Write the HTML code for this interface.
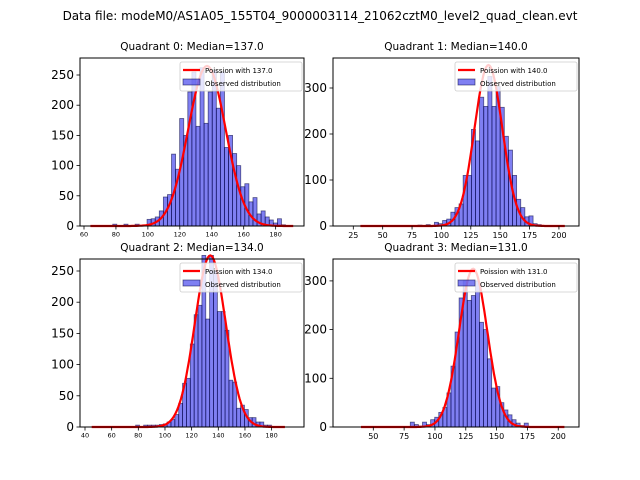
<!DOCTYPE html>
<html><head><meta charset="utf-8"><style>
body{margin:0;background:#fff}
svg{display:block;font-family:"DejaVu Sans","Liberation Sans",sans-serif}
</style></head><body>
<svg id="fig" width="640" height="480" viewBox="0 0 640 480">
<rect width="640" height="480" fill="#fff"/>
<text x="320" y="20" text-anchor="middle" font-size="12">Data file: modeM0/AS1A05_155T04_9000003114_21062cztM0_level2_quad_clean.evt</text>
</svg>
<script>
// Quadrant 0
const q0Start = 99.5, q0Width = 2.55;
const q0Counts = [11,12,15,25,48,52,119,94,178,150,222,255,165,262,170,222,257,195,255,130,150,120,100,65,70,40,47,20,25,15,10,5,12,2];
const q0Extra = [[78,3],[85,3],[92,3]];
const q0Median = 137, q0Peak = 265, q0Range = [64,191];
const q0XTicks = [60,80,100,120,140,160,180];
const q0YTicks = [0,50,100,150,200,250];
// Quadrant 1
const q1Start = 101, q1Width = 3.5;
const q1Counts = [12,15,30,40,48,110,110,210,185,280,260,325,260,303,258,195,165,110,58,40,20,22,5,3];
const q1Extra = [[80,2],[87,3],[94,8],[97,5]];
const q1Median = 140, q1Peak = 350, q1Range = [31,205];
const q1XTicks = [25,50,75,100,125,150,175,200];
const q1YTicks = [0,100,200,300];
// Quadrant 2
const q2Start = 90, q2Width = 2.9;
const q2Counts = [3,3,4,5,8,12,20,38,70,78,133,180,195,275,173,275,250,185,185,155,75,72,30,35,28,15,15,8,8,3,3];
const q2Extra = [[78,3],[84,3],[87,3]];
const q2Median = 134, q2Peak = 275, q2Range = [45,190];
const q2XTicks = [40,60,80,100,120,140,160,180];
const q2YTicks = [0,50,100,150,200,250];
// Quadrant 3
const q3Start = 80, q3Width = 3.3;
const q3Counts = [10,5,2,10,5,15,20,30,40,70,125,195,265,300,260,270,300,215,200,140,80,83,50,35,25,15,8,3,8,1];
const q3Extra = [];
const q3Median = 131, q3Peak = 325, q3Range = [40,205];
const q3XTicks = [50,75,100,125,150,175,200];
const q3YTicks = [0,100,200,300];

const NS = "http://www.w3.org/2000/svg";
const svg = document.getElementById('fig');
function mk(tag, attrs, parent){const e=document.createElementNS(NS,tag);for(const k in attrs)e.setAttribute(k,attrs[k]);(parent||svg).appendChild(e);return e;}

function panel(p){
  const g = mk('g',{});
  
  
  const sx = v => p.x0 + (v - p.xmin) * (p.x1 - p.x0) / (p.xmax - p.xmin);
  const sy = v => p.y1 - v * (p.y1 - p.y0) / p.ymax;
  const bars = [];
  p.extra.forEach(e => bars.push([e[0], e[1]]));
  p.counts.forEach((c,i) => bars.push([p.start + i*p.width, c]));
  bars.forEach(b => {
    const r = mk('rect',{x:sx(b[0]),y:sy(b[1]),width:Math.max(0.5,sx(b[0]+p.width)-sx(b[0])),height:sy(0)-sy(b[1]),fill:'rgba(0,0,230,0.5)',stroke:'rgba(0,0,60,0.6)','stroke-width':0.8},g);
    
    
  });
  let d='';
  for(let x=p.range[0]; x<=p.range[1]; x+=1){
    const y = p.peak*Math.exp(-(x-p.median)*(x-p.median)/(2*p.median));
    d += (d?'L':'M') + sx(x).toFixed(1)+','+sy(y).toFixed(1);
  }
  const c = mk('path',{d:d,fill:'none',stroke:'#f00','stroke-width':2.2},g);
  
  
  const f = mk('rect',{x:p.x0,y:p.y0,width:p.x1-p.x0,height:p.y1-p.y0,fill:'none',stroke:'#000','stroke-width':1},g);
  
  
  p.xticks.forEach(t => {
    mk('line',{x1:sx(t),x2:sx(t),y1:p.y1,y2:p.y1+3.5,stroke:'#000','stroke-width':0.8},g);
    const tx = mk('text',{x:sx(t),y:p.y1+4+p.xfs,'text-anchor':'middle','font-size':p.xfs},g);
    tx.textContent = t;
    
    
  });
  p.yticks.forEach(t => {
    mk('line',{x1:p.x0-3.5,x2:p.x0,y1:sy(t),y2:sy(t),stroke:'#000','stroke-width':0.8},g);
    const tx = mk('text',{x:p.x0-6,y:sy(t)+4,'text-anchor':'end','font-size':12},g);
    tx.textContent = t;
    
    
  });
  const ti = mk('text',{x:(p.x0+p.x1)/2,y:p.y0-8,'text-anchor':'middle','font-size':10.5},g);
  ti.textContent = 'Quadrant '+p.id+': Median='+p.median.toFixed(1);
  
  
  const lg = mk('g',{},g);
  
  
  const lx = p.x1-124, ly = p.y0+4;
  mk('rect',{x:lx,y:ly,width:122,height:29,rx:2,fill:'rgba(255,255,255,0.8)',stroke:'#ccc','stroke-width':0.8},lg);
  mk('line',{x1:lx+3,x2:lx+20,y1:ly+8,y2:ly+8,stroke:'#f00','stroke-width':2.2},lg);
  mk('rect',{x:lx+3,y:ly+17,width:17,height:6,fill:'rgba(0,0,230,0.5)',stroke:'rgba(0,0,60,0.6)','stroke-width':0.8},lg);
  const l1 = mk('text',{x:lx+25,y:ly+11,'font-size':7},lg); l1.textContent='Poission with '+p.median.toFixed(1);
  
  
  const l2 = mk('text',{x:lx+25,y:ly+24,'font-size':7},lg); l2.textContent='Observed distribution';
  
  
}

panel({id:0,x0:80,x1:304,y0:58,y1:226,start:q0Start,width:q0Width,counts:q0Counts,extra:q0Extra,median:q0Median,peak:q0Peak,range:q0Range,xticks:q0XTicks,yticks:q0YTicks,xfs:6.5,
  ...(()=>{const ppu=1.597;return {xmin:60-(84-80)/ppu, xmax:60+(304-84)/ppu, ymax:168/0.604};})()});
panel({id:1,x0:333,x1:579,y0:58,y1:226,start:q1Start,width:q1Width,counts:q1Counts,extra:q1Extra,median:q1Median,peak:q1Peak,range:q1Range,xticks:q1XTicks,yticks:q1YTicks,xfs:8,
  ...(()=>{const ppu=1.175;return {xmin:25-(353.3-333)/ppu, xmax:25+(579-353.3)/ppu, ymax:168/0.46};})()});
panel({id:2,x0:80,x1:304,y0:259,y1:427,start:q2Start,width:q2Width,counts:q2Counts,extra:q2Extra,median:q2Median,peak:q2Peak,range:q2Range,xticks:q2XTicks,yticks:q2YTicks,xfs:6.5,
  ...(()=>{const ppu=1.333;return {xmin:40-(85-80)/ppu, xmax:40+(304-85)/ppu, ymax:168/0.624};})()});
panel({id:3,x0:333,x1:579,y0:259,y1:427,start:q3Start,width:q3Width,counts:q3Counts,extra:q3Extra,median:q3Median,peak:q3Peak,range:q3Range,xticks:q3XTicks,yticks:q3YTicks,xfs:8,
  ...(()=>{const ppu=1.233;return {xmin:50-(373.3-333)/ppu, xmax:50+(579-373.3)/ppu, ymax:168/0.487};})()});
</script>
</body></html>
